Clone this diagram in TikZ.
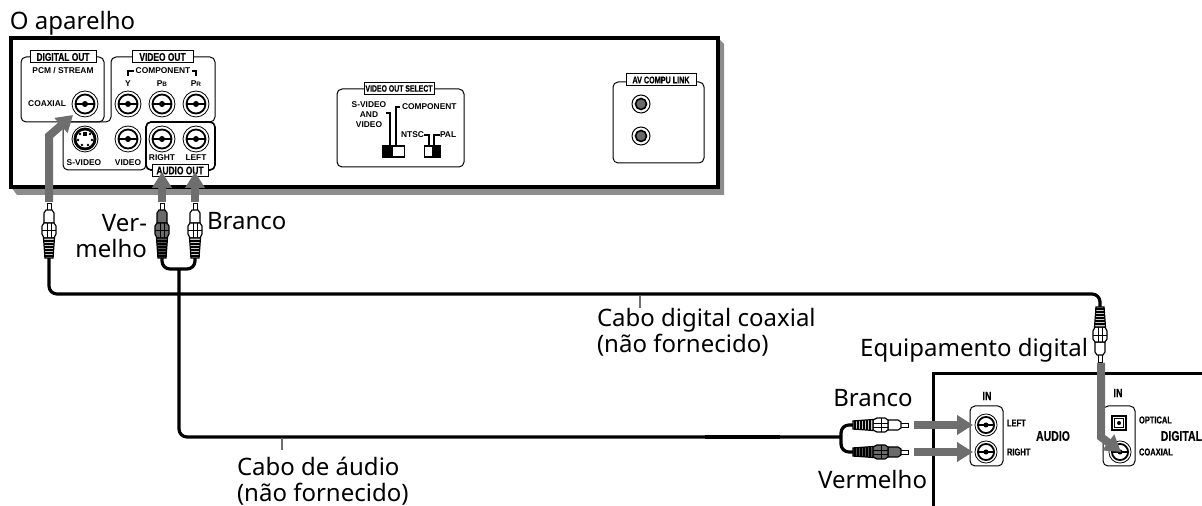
\documentclass[tikz,border=0pt]{standalone}
\usepackage{fontspec}
\setmainfont{Noto Sans}
\newfontfamily\labelfont{Liberation Sans}
\newfontfamily\tagfont[FakeStretch=.75,BoldFeatures={FakeStretch=.75,FakeBold=.5}]{Liberation Sans}
\definecolor{Arrowgray}{HTML}{6E6E6E}
\definecolor{Shadowgray}{HTML}{8C8C8C}
\definecolor{Plugred}{HTML}{6A6A6A}
\usetikzlibrary{arrows.meta}

\begin{document}
\begin{tikzpicture}[
  x=.5pt,y=-.5pt,
  every node/.style={inner sep=0pt,outer sep=0pt},
  caption/.style={font=\fontsize{12}{13}\selectfont},
  tiny/.style={font=\labelfont\bfseries\fontsize{4.2}{4.9}\selectfont,align=center},
  narrow/.style={font=\tagfont\bfseries\fontsize{5}{6}\selectfont},
  wide/.style={font=\tagfont\bfseries\fontsize{7}{8}\selectfont},
  panel/.style={draw,line width=.5pt,rounded corners=2.5pt},
  tagbox/.style={draw,fill=white,line width=.5pt,
    font=\tagfont\bfseries\fontsize{5.6}{6}\selectfont,minimum height=6pt,align=center},
  cable/.style={line width=1.6pt,rounded corners=4pt},
  leader/.style={line width=.6pt},
  bigarrow/.style={draw=Arrowgray,line width=4pt,
    -{Triangle[width=9.5pt,length=8pt]}},
  pics/jack/.style={code={
    \draw[fill=white,line width=.4pt] (0,0) circle (13);
    \draw[fill=white,line width=.9pt] (0,0) circle (9.5);
    \draw[line width=.6pt] (-9.5,0) -- (9.5,0);
    \fill (0,0) circle (3);
  }},
  pics/linkjack/.style={code={
    \draw[fill=white,line width=.5pt] (0,0) circle (9);
    \draw[fill=Plugred,line width=.8pt] (0,0) circle (5.5);
  }},
  pics/plug/.style={code={
    % pin tip at the origin, cable end 55 further on
    \draw[fill=white,line width=.4pt] (-2,0) rectangle (2,8);
    \draw[fill=#1,line width=.6pt] (-3,7) -- (3,7) -- (5,10) -- (5,20) -- (-5,20) -- (-5,10) -- cycle;
    \draw[fill=#1,line width=.6pt] (-5,20) -- (-7,23) -- (-7,31) -- (-5,35) -- (5,35)
      -- (7,31) -- (7,23) -- (5,20) -- cycle;
    \draw[line width=.4pt] (-7,27) -- (7,27) (-2,20) -- (-2,35) (2,20) -- (2,35);
    \draw[fill=#1!80!black,line width=.6pt] (-5.5,35) -- (5.5,35) -- (4,55) -- (-4,55) -- cycle;
    \foreach \ypos in {38,41,...,53} \draw[line width=.6pt] (-5,\ypos) -- (5,\ypos);
  }}
]
\useasboundingbox (0,0) rectangle (1202,506);

% the player
\fill[Shadowgray] (718,38) -- (724,44) -- (724,195) -- (17,195) -- (11,187) -- cycle;
\draw[fill=white,line width=1.7pt] (11,38) rectangle (718,187);
\node[caption,anchor=west] (title) at (10,23) {O aparelho};

\draw[panel] (21,57) rectangle (104,122);
\node[tagbox,minimum width=33pt] (digitalout) at (63,57) {DIGITAL OUT};
\node[tiny] (pcm) at (63,71) {PCM / STREAM};
\node[tiny,anchor=east] (coaxial) at (66,104) {COAXIAL};

\draw[panel] (104,122) -- (111,122) -- (111,57) -- (215,57) -- (215,122) -- (146,122)
  -- (146,170) -- (63,170) -- (63,122) -- (104,122);
\node[tagbox,minimum width=30.5pt] (videoout) at (162.5,57) {VIDEO OUT};
\node[tiny,fill=white,inner xsep=1pt] (component) at (163,71) {COMPONENT};
\draw[leader] (128,76) |- (component);
\draw[leader] (196,76) |- (component);
\node[tiny] (ylabel) at (128,84) {Y};
\node[tiny] (pblabel) at (162,84) {P\fontsize{3.2}{4}\selectfont B};
\node[tiny] (prlabel) at (196,84) {P\fontsize{3.2}{4}\selectfont R};
\node[tiny] (svideo) at (84,163) {S-VIDEO};
\node[tiny] (video) at (128,163) {VIDEO};

\draw[panel,line width=.8pt] (146,122) rectangle (215,170);
\node[tiny] (rightlabel) at (162,158) {RIGHT};
\node[tiny] (leftlabel) at (196,158) {LEFT};
\node[tagbox,minimum width=28pt] (audioout) at (180,170.5) {AUDIO OUT};

\pic at (85,104) {jack};
\pic at (128,104) {jack};
\pic at (162,104) {jack};
\pic at (196,104) {jack};
\pic at (128,139) {jack};
\pic at (162,139) {jack};
\pic at (196,139) {jack};
% S-video socket
\draw[fill=white,line width=.4pt] (85,139) circle (13);
\draw[fill=black] (85,139) circle (11);
\draw[fill=white,draw=none] (85,139) circle (8.5);
\foreach \xpos/\ypos in {80/134,90/134,78/140,92/140,82/145,88/145}
  \fill (\xpos,\ypos) circle (1.3);
\fill (83,132) rectangle (87,136);

% video out select
\draw[panel] (337,89) rectangle (464,167);
\node[tagbox,minimum width=35pt,font=\tagfont\bfseries\fontsize{4.6}{5}\selectfont] (selecttag) at (399,88.5) {VIDEO OUT SELECT};
\node[tiny] (svideoand) at (369,114.5) {S-VIDEO\\AND\\VIDEO};
\node[tiny,anchor=west] (componenttwo) at (402,107) {COMPONENT};
\node[tiny,anchor=east] (ntsc) at (424,135) {NTSC};
\node[tiny,anchor=west] (pal) at (440,135) {PAL};
\node[draw,line width=.6pt,fill=white,minimum width=11pt,minimum height=5.5pt] (switchone) at (393.5,151.5) {};
\node[draw,line width=.6pt,fill=white,minimum width=8pt,minimum height=5.5pt] (switchtwo) at (432.5,151.5) {};
\fill (383,146) rectangle (393,157);
\fill (432,146) rectangle (441,157);
\draw[leader] (386,113) -| (390,146);
\draw[leader] (400,107) -| (396,146);
\draw[leader] (ntsc.east) -| (429,146);
\draw[leader] (pal.west) -| (434,146);

% av compu link
\draw[panel] (613,82) rectangle (704,163);
\node[tagbox,minimum width=35pt,font=\tagfont\bfseries\fontsize{4.8}{5}\selectfont] (avlink) at (661,80) {AV COMPU LINK};
\pic at (641,104) {linkjack};
\pic at (641,136) {linkjack};

% the digital equipment
\draw[line width=1.5pt] (1202,374) -- (933,374) -- (933,506);
\draw[panel] (970,406) rectangle (1003,466);
\draw[panel] (1103,406) rectangle (1135,466);
\node[wide,font=\tagfont\bfseries\fontsize{6}{7}\selectfont] (inaudio) at (987,396) {IN};
\node[wide,font=\tagfont\bfseries\fontsize{6}{7}\selectfont] (indigital) at (1118,393) {IN};
\node[narrow,anchor=west] (leftin) at (1007,423) {LEFT};
\node[narrow,anchor=west] (rightin) at (1007,452) {RIGHT};
\node[wide] (audioin) at (1053,436) {AUDIO};
\node[narrow,anchor=west] (opticalin) at (1139,420) {OPTICAL};
\node[narrow,anchor=west] (coaxialin) at (1139,452) {COAXIAL};
\node[wide,anchor=east] (digitalin) at (1202,436) {DIGITAL};
\pic[scale=.85] at (986,425) {jack};
\pic[scale=.85] at (986,452) {jack};
\pic[scale=.85] at (1120,452) {jack};
\draw[line width=.8pt,fill=white] (1112,416) rectangle (1126,430);
\draw[line width=.5pt] (1114.5,418.5) rectangle (1123.5,427.5);
\fill (1119,423) circle (2);

% cables
\coordinate (coaxend) at (49,258);
\coordinate (coaxfar) at (1100,307);
\coordinate (redend) at (162,258);
\coordinate (whiteend) at (195,258);
\coordinate (audiojoin) at (179,269);
\coordinate (whitefar) at (853,425);
\coordinate (redfar) at (853,452);
\coordinate (farjoin) at (841,437);
\draw[cable] (coaxend) |- (coaxfar |- 0,294) -- (coaxfar);
\draw[cable] (redend) |- (audiojoin) -| (whiteend);
\draw[cable] (audiojoin) |- (farjoin);
\draw[cable] (whitefar) -| (farjoin);
\draw[cable] (redfar) -| (farjoin);
\draw[line width=2pt] (705,437) -- (780,437);
\draw[line width=.8pt,draw=Arrowgray] (640,296) -- (640,308);
\draw[line width=.8pt,draw=Arrowgray] (282,438) -- (282,450);

% plugs
\pic at (49,203) {plug=white};
\pic at (162,203) {plug=Plugred};
\pic at (195,203) {plug=white};
\pic[rotate=180] at (1100,362) {plug=white};
\pic[rotate=-90] at (908,425) {plug=white};
\pic[rotate=-90] at (908,452) {plug=Plugred};

% arrows
\coordinate (coaxstart) at (49,202);
\coordinate (coaxbend) at (49,136);
\coordinate (coaxtip) at (73,115);
\coordinate (redstart) at (162,202);
\coordinate (redtip) at (162,172);
\coordinate (whitestart) at (195,202);
\coordinate (whitetip) at (195,172);
\coordinate (eqstart) at (1101,363);
\coordinate (eqbend) at (1101,437);
\coordinate (eqtip) at (1121,452);
\draw[bigarrow] (coaxstart) -- (coaxbend) -- (coaxtip);
\draw[bigarrow] (redstart) -- (redtip);
\draw[bigarrow] (whitestart) -- (whitetip);
\draw[bigarrow] (eqstart) -- (eqbend) -- (eqtip);
\coordinate (wstart) at (914,425);
\coordinate (wtip) at (973,425);
\coordinate (rstart) at (914,452);
\coordinate (rtip) at (973,452);
\draw[bigarrow] (wstart) -- (wtip);
\draw[bigarrow] (rstart) -- (rtip);

% captions
\node[caption,anchor=west] (brancotop) at (207,221) {Branco};
\node[caption,anchor=east,align=right] (vermelhotop) at (147,236) {Ver-\\melho};
\node[caption,anchor=west,align=left] (cabocoax) at (597,332.5) {Cabo digital coaxial\\(não fornecido)};
\node[caption,anchor=west,align=left] (caboaudio) at (237,481) {Cabo de áudio\\(não fornecido)};
\node[caption,anchor=east] (equip) at (1088,350) {Equipamento digital};
\node[caption] (brancofar) at (873,398) {Branco};
\node[caption,anchor=east] (vermelhofar) at (927,479) {Vermelho};
\end{tikzpicture}
\end{document}
